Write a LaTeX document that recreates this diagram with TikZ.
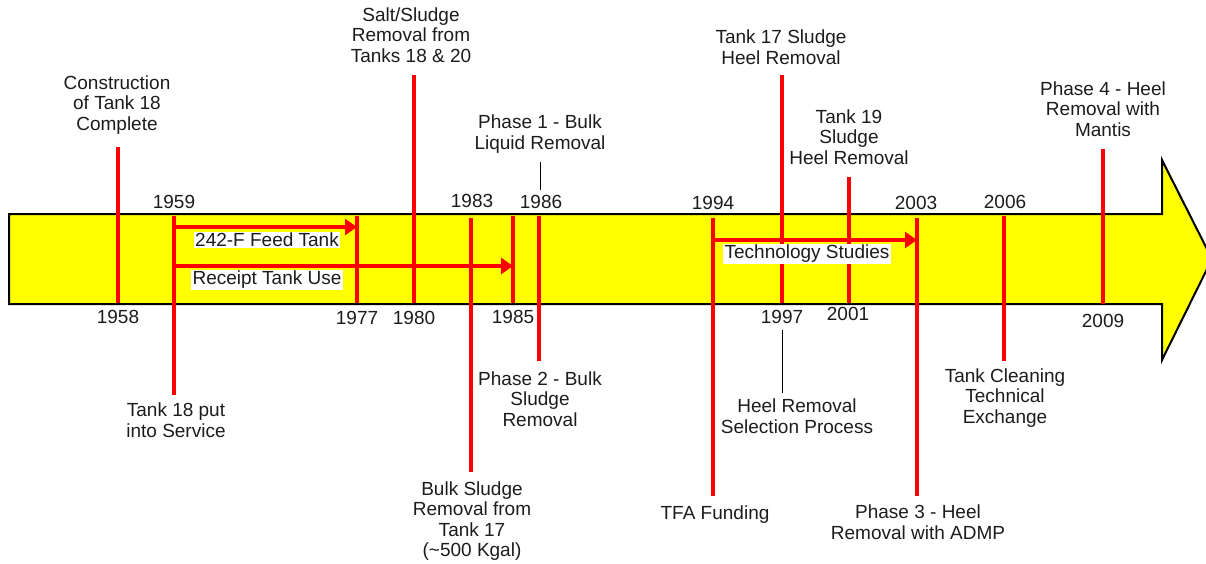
\documentclass[tikz,border=0pt]{standalone}
\usepackage{fontspec}
\setmainfont{Liberation Sans}
\usetikzlibrary{arrows.meta}
\definecolor{barfill}{RGB}{255,255,0}
\definecolor{txt}{RGB}{28,28,28}

\begin{document}
\begin{tikzpicture}[x=1pt, y=-1pt,
  lbl/.style={align=center, text=txt, font=\fontsize{19}{20.5}\selectfont, inner sep=1pt},
  yr/.style={text=txt, font=\fontsize{19}{20.5}\selectfont, inner sep=1pt},
  redline/.style={red, line width=4pt},
  period/.style={red, line width=4pt, -{Triangle[length=12pt, width=16pt]}},
  periodlbl/.style={lbl, fill=white, inner sep=1.5pt},
  leader/.style={black, line width=0.8pt}]
\useasboundingbox (0,0) rectangle (1206,563);
% the time arrow
\draw[fill=barfill, line width=2pt] (9,214) -- (1162,214) -- (1162,160) -- (1212,259) -- (1162,360) -- (1162,304) -- (9,304) -- cycle;
% red event markers
\foreach \n/\x/\a/\b in {m58/118/147/303, m59/174/216/395, m77/357/216/303, m80/414/75/303,
    m83/471/218/472, m85/513/216/303, m86/539/216/361, m94/713/218/496, m97/782/75/303,
    m01/849/177/303, m03/917/218/496, m06/1004/216/361, m09/1103/149/304}
  {\coordinate (\n a) at (\x,\a);
   \coordinate (\n b) at (\x,\b);
   \draw[redline] (\n a) -- (\n b);}
% periods
\draw[period] (m59a |- 0,227) -- (m77a |- 0,227);
\draw[period] (m59a |- 0,266) -- (m85a |- 0,266);
\draw[period] (m94a |- 0,240) -- (m03a |- 0,240);
\node[periodlbl] (feed) at (267,240) {242-F Feed Tank};
\node[periodlbl] (rcpt) at (267,280) {Receipt Tank Use};
\node[periodlbl] (tech) at (807,254) {Technology Studies};
% years
\node[yr] (y58) at (118,317) {1958};
\node[yr] (y59) at (174,202) {1959};
\node[yr] (y77) at (357,318) {1977};
\node[yr] (y80) at (414,318) {1980};
\node[yr] (y83) at (472,201) {1983};
\node[yr] (y85) at (513,317) {1985};
\node[yr] (y86) at (541,202) {1986};
\node[yr] (y94) at (713,203) {1994};
\node[yr] (y97) at (782,317) {1997};
\node[yr] (y01) at (848,314) {2001};
\node[yr] (y03) at (916,203) {2003};
\node[yr] (y06) at (1005,202) {2006};
\node[yr] (y09) at (1103,321) {2009};
% events above
\node[lbl] (build) at (117,105) {Construction\\of Tank 18\\Complete};
\node[lbl] (salt) at (411,35) {Salt/Sludge\\Removal from\\Tanks 18 \& 20};
\node[lbl] (p1) at (540,134) {Phase 1 - Bulk\\Liquid Removal};
\node[lbl] (t17heel) at (781,47) {Tank 17 Sludge\\Heel Removal};
\node[lbl] (t19heel) at (849,137) {Tank 19\\Sludge\\Heel Removal};
\node[lbl] (p4) at (1103,109) {Phase 4 - Heel\\Removal with\\Mantis};
% events below
\node[lbl] (service) at (176,420) {Tank 18 put\\into Service};
\node[lbl] (bulk17) at (472,521) {Bulk Sludge\\Removal from\\Tank 17\\(\textasciitilde500 Kgal)};
\node[lbl] (p2) at (540,399) {Phase 2 - Bulk\\Sludge\\Removal};
\node[lbl] (tfa) at (715,515) {TFA Funding};
\node[lbl] (select) at (797,416) {Heel Removal\\Selection Process};
\node[lbl] (p3) at (918,522) {Phase 3 - Heel\\Removal with ADMP};
\node[lbl] (exch) at (1005,398) {Tank Cleaning\\Technical\\Exchange};
% leaders
\draw[leader, shorten <=8pt, shorten >=4pt] (p1.south) -- (p1.south |- y86.north);
\draw[leader, shorten <=5pt, shorten >=5pt] (y97.south) -- (y97.south |- select.north);
\end{tikzpicture}
\end{document}
